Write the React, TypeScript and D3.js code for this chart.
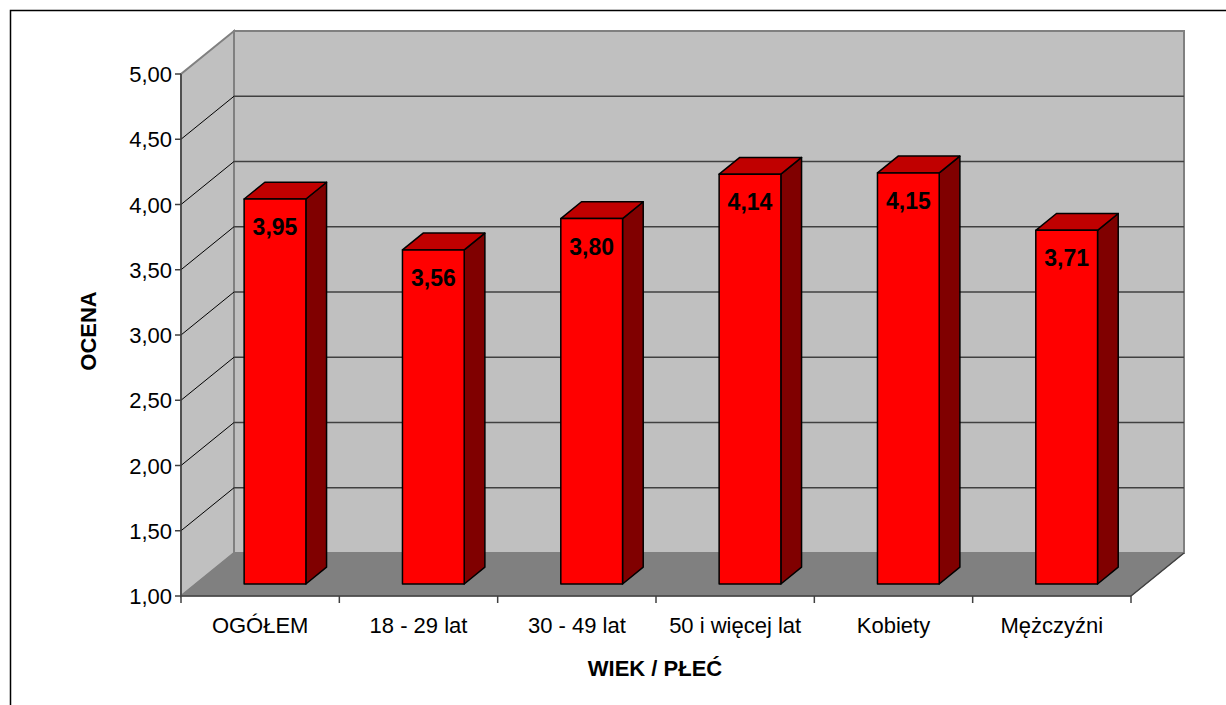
import React from 'react';
import * as d3 from 'd3';

const categories = ['OGÓŁEM', '18 - 29 lat', '30 - 49 lat', '50 i więcej lat', 'Kobiety', 'Mężczyźni'];
const values = [3.95, 3.56, 3.8, 4.14, 4.15, 3.71];
const yTicks = [1, 1.5, 2, 2.5, 3, 3.5, 4, 4.5, 5];

const fmt = (v: number) => v.toFixed(2).replace('.', ',');

export default function App() {
  const left = 181, right = 1131, bottom = 596, top = 74;
  const depthX = 53, depthY = 43; // wall depth offset
  const font = 'Arial, "Liberation Sans", sans-serif';

  const x = d3.scaleBand().domain(categories).range([left, right]);
  const y = d3.scaleLinear().domain([1, 5]).range([bottom, top]);
  // project a point pushed back by fraction d of the depth
  const p = (px: number, py: number, d: number): [number, number] => [px + d * depthX, py - d * depthY];
  const pts = (arr: [number, number][]) => arr.map(a => a.join(',')).join(' ');

  const barW = x.bandwidth() * 0.39;
  const d1 = 0.28, d2 = 0.67;

  const floor = pts([[left, bottom], [right, bottom], p(right, bottom, 1), p(left, bottom, 1)]);
  const sideWall = pts([[left, bottom], [left, top], p(left, top, 1), p(left, bottom, 1)]);
  const backWall = pts([p(left, top, 1), p(right, top, 1), p(right, bottom, 1), p(left, bottom, 1)]);

  return (
    <svg width={1226} height={705} style={{ position: 'absolute', left: 0, top: 0 }}>
      <rect x={0} y={0} width={1226} height={705} fill="#fff" />
      <rect x={10.5} y={10.5} width={1240} height={720} fill="none" stroke="#000" strokeWidth={1.5} />

      {/* walls */}
      <polygon points={backWall} fill="#c0c0c0" stroke="#808080" strokeWidth={2} />
      <polygon points={sideWall} fill="#c0c0c0" stroke="#808080" strokeWidth={2} />
      <polygon points={floor} fill="#808080" stroke="#808080" />

      {/* gridlines */}
      {yTicks.slice(1, -1).map(t => {
        const [bx, by] = p(left, y(t), 1);
        const [ex] = p(right, y(t), 1);
        return (
          <g key={t}>
            <line x1={left} y1={y(t)} x2={bx} y2={by} stroke="#000" strokeWidth={1} />
            <line x1={bx} y1={by} x2={ex} y2={by} stroke="#404040" strokeWidth={1.5} />
          </g>
        );
      })}

      {/* bars */}
      {categories.map((c, i) => {
        const cx = (x(c) as number) + x.bandwidth() / 2;
        const xl = cx - barW / 2, xr = cx + barW / 2;
        const yb = y(1), yt = y(values[i]);
        const fl = p(xl, yt, d1), fr = p(xr, yt, d1);
        const flb = p(xl, yb, d1), frb = p(xr, yb, d1);
        const bl = p(xl, yt, d2), br = p(xr, yt, d2), brb = p(xr, yb, d2);
        return (
          <g key={c} stroke="#000" strokeWidth={1.5} strokeLinejoin="round">
            <polygon points={pts([fr, br, brb, frb])} fill="#800000" />
            <polygon points={pts([fl, fr, br, bl])} fill="#c00000" />
            <polygon points={pts([fl, fr, frb, flb])} fill="#ff0000" />
            <text x={(fl[0] + fr[0]) / 2} y={fl[1] + 36} textAnchor="middle" fontFamily={font}
              fontSize={23} fontWeight="bold" fill="#000" stroke="none">{fmt(values[i])}</text>
          </g>
        );
      })}

      {/* y axis */}
      <line x1={left} y1={top} x2={left} y2={bottom} stroke="#404040" strokeWidth={1.5} />
      {yTicks.map(t => (
        <g key={t}>
          <line x1={left - 6} y1={y(t)} x2={left} y2={y(t)} stroke="#404040" strokeWidth={1.5} />
          <text x={left - 9} y={y(t) + 8} textAnchor="end" fontFamily={font} fontSize={22} fill="#000">{fmt(t)}</text>
        </g>
      ))}

      {/* x axis */}
      <line x1={left} y1={bottom} x2={right} y2={bottom} stroke="#404040" strokeWidth={1.5} />
      <polyline points={pts([[right, bottom], p(right, bottom, 1)])} stroke="#404040" strokeWidth={1.5} fill="none" />
      {categories.map(c => (
        <line key={c} x1={x(c) as number} y1={bottom} x2={x(c) as number} y2={bottom + 7} stroke="#404040" strokeWidth={1.5} />
      ))}
      <line x1={right} y1={bottom} x2={right} y2={bottom + 7} stroke="#404040" strokeWidth={1.5} />
      {categories.map(c => (
        <text key={c} x={(x(c) as number) + x.bandwidth() / 2} y={633} textAnchor="middle" fontFamily={font} fontSize={22} fill="#000">{c}</text>
      ))}

      {/* axis titles */}
      <text transform="translate(96,331) rotate(-90)" textAnchor="middle" fontFamily={font} fontSize={22} fontWeight="bold">OCENA</text>
      <text x={655} y={676} textAnchor="middle" fontFamily={font} fontSize={22} fontWeight="bold">WIEK / PŁEĆ</text>
    </svg>
  );
}
